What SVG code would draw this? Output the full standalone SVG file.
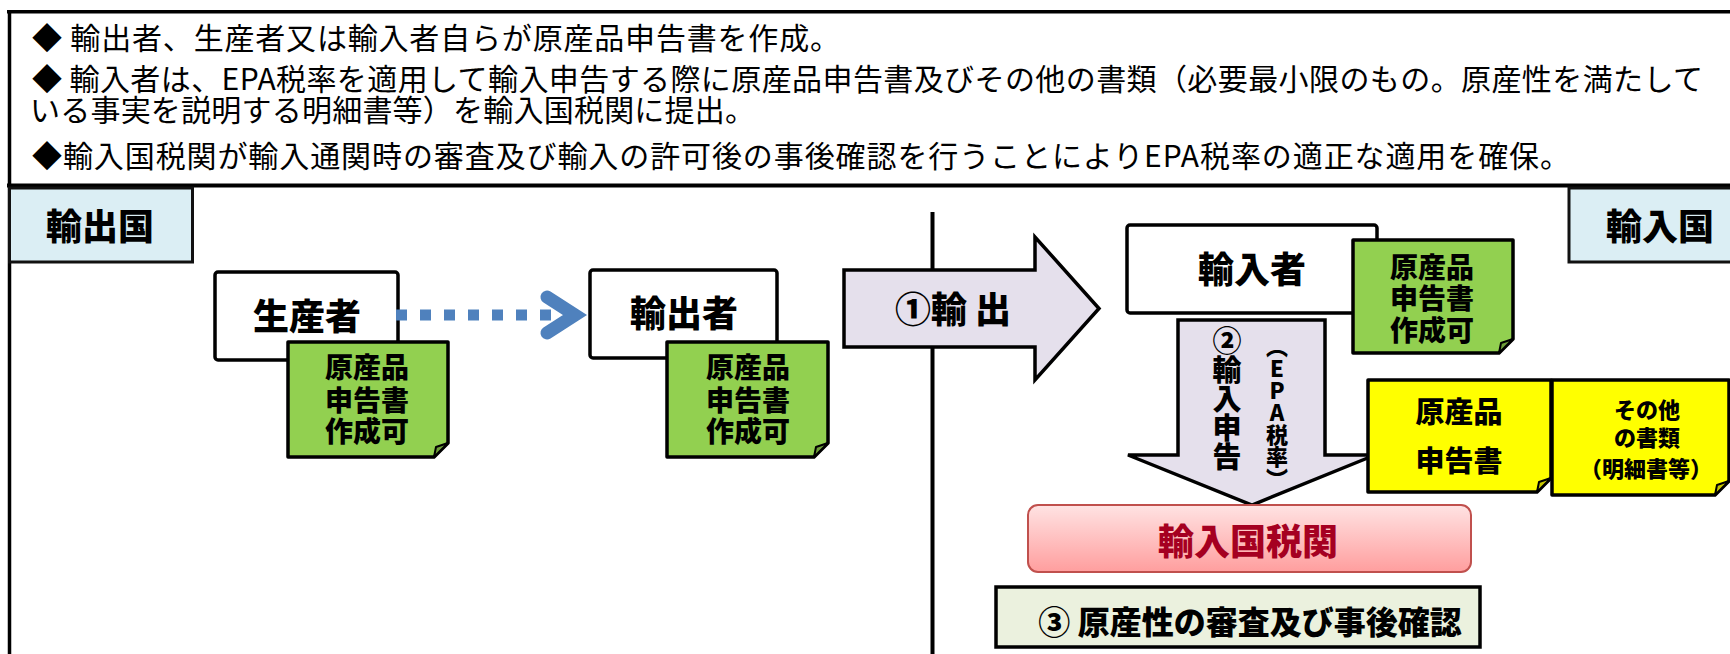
<svg xmlns="http://www.w3.org/2000/svg" width="1730" height="654" viewBox="0 0 1730 654">
<style>
text{font-family:"Noto Sans CJK JP","Noto Sans",sans-serif;fill:#000}
.hd{font-size:30px;font-weight:400}
.b{font-weight:900;text-anchor:middle}
.box{fill:#fff;stroke:#000;stroke-width:3.5}
.cty{fill:#DBEEF4;stroke:#111;stroke-width:3}
.green{fill:#92D050;stroke:#000;stroke-width:3.5;stroke-linejoin:round}
.gfold{fill:#6E9E3A;stroke:#000;stroke-width:2;stroke-linejoin:round}
.yellow{fill:#FFFF00;stroke:#000;stroke-width:3.5;stroke-linejoin:round}
.yfold{fill:#C8C800;stroke:#000;stroke-width:2;stroke-linejoin:round}
.barrow{fill:#E5E0EC;stroke:#000;stroke-width:3.5;stroke-linejoin:miter}
.vt{writing-mode:vertical-rl;text-orientation:upright;font-weight:900}
</style>
<defs>
<linearGradient id="pink" x1="0" y1="0" x2="0" y2="1">
<stop offset="0" stop-color="#FFE3E3"/>
<stop offset="1" stop-color="#FF9E9E"/>
</linearGradient>
</defs>
<rect width="1730" height="654" fill="#fff"/>

<g id="frame" fill="none" stroke="#000">
<line x1="7" y1="11.8" x2="1730" y2="11.8" stroke-width="3.5"/>
<line x1="7" y1="185.5" x2="1730" y2="185.5" stroke-width="4"/>
<line x1="9.5" y1="10" x2="9.5" y2="654" stroke-width="3.5"/>
<line x1="932.5" y1="212" x2="932.5" y2="654" stroke-width="4"/>
</g>

<g id="header">
<text class="hd" x="32" y="49" textLength="808" lengthAdjust="spacing">◆ 輸出者、生産者又は輸入者自らが原産品申告書を作成。</text>
<text class="hd" x="32" y="90" textLength="1671" lengthAdjust="spacing">◆ 輸入者は、EPA税率を適用して輸入申告する際に原産品申告書及びその他の書類（必要最小限のもの。原産性を満たして</text>
<text class="hd" x="30" y="121" textLength="725" lengthAdjust="spacing">いる事実を説明する明細書等）を輸入国税関に提出。</text>
<text class="hd" x="32" y="167" textLength="1538" lengthAdjust="spacing">◆輸入国税関が輸入通関時の審査及び輸入の許可後の事後確認を行うことによりEPA税率の適正な適用を確保。</text>
</g>

<g id="export-country">
<rect class="cty" x="9.5" y="188" width="183" height="74"/>
<text class="b" x="100" y="239.5" font-size="36">輸出国</text>
</g>
<g id="import-country">
<rect class="cty" x="1569" y="188" width="170" height="74"/>
<text class="b" x="1660" y="239.5" font-size="36">輸入国</text>
</g>

<g id="producer">
<rect class="box" x="215" y="272" width="183" height="88" rx="3"/>
<text class="b" x="307" y="329.5" font-size="36">生産者</text>
<path class="green" d="M288 342H448V443L434 457H288Z"/>
<path class="gfold" d="M448 443L436 447L434 457Z"/>
<text class="b" font-size="28"><tspan x="367" y="378">原産品</tspan><tspan x="367" y="410.5">申告書</tspan><tspan x="367" y="441.5">作成可</tspan></text>
</g>

<g id="exporter">
<rect class="box" x="590" y="270" width="187" height="88" rx="3"/>
<text class="b" x="684" y="326.5" font-size="36">輸出者</text>
<path class="green" d="M667 342H828V443L814 457H667Z"/>
<path class="gfold" d="M828 443L816 447L814 457Z"/>
<text class="b" font-size="28"><tspan x="748" y="378">原産品</tspan><tspan x="748" y="410.5">申告書</tspan><tspan x="748" y="441.5">作成可</tspan></text>
</g>

<g id="export-arrow">
<path class="barrow" d="M844 270H1035V237L1099 308.5L1035 380V347H844Z"/>
<text class="b" x="953" y="322.5" font-size="36">①輸 出</text>
</g>

<g id="importer">
<rect class="box" x="1127" y="225" width="250" height="88" rx="3"/>
<text class="b" x="1252" y="282.5" font-size="36">輸入者</text>
<path class="green" d="M1353 240H1513V339L1499 353H1353Z"/>
<path class="gfold" d="M1513 339L1501 343L1499 353Z"/>
<text class="b" font-size="28"><tspan x="1432" y="277.5">原産品</tspan><tspan x="1432" y="308.5">申告書</tspan><tspan x="1432" y="340.5">作成可</tspan></text>
</g>

<g id="import-declaration">
<path class="barrow" d="M1178 320H1325V455H1375L1252 505L1128 455H1178Z"/>
<text class="vt" x="1227" y="326" font-size="29">②輸入申告</text>
<text class="vt" x="1277" y="336" font-size="22">（EPA税率）</text>
</g>

<g id="origin-declaration">
<path class="yellow" d="M1368 380H1551V478L1537 492H1368Z"/>
<path class="yfold" d="M1551 478L1539 482L1537 492Z"/>
<text class="b" font-size="29"><tspan x="1459" y="423">原産品</tspan><tspan x="1459" y="472">申告書</tspan></text>
</g>

<g id="other-documents">
<path class="yellow" d="M1552 380H1729V481L1715 495H1552Z"/>
<path class="yfold" d="M1729 481L1717 485L1715 495Z"/>
<text class="b" font-size="22"><tspan x="1647" y="417.5">その他</tspan><tspan x="1647" y="445.5">の書類</tspan><tspan x="1646" y="476.5">（明細書等）</tspan></text>
</g>

<g id="customs">
<rect x="1028" y="505" width="443" height="67" rx="10" fill="url(#pink)" stroke="#C0504D" stroke-width="2"/>
<text class="b" x="1248" y="554.5" font-size="36" style="fill:#A50021">輸入国税関</text>
</g>

<g id="review">
<rect x="996" y="587" width="484" height="60" fill="#EBF1DE" stroke="#000" stroke-width="3.5"/>
<text class="b" x="1250" y="634" font-size="32">③ 原産性の審査及び事後確認</text>
</g>

<g id="connectors">
<line x1="396" y1="315" x2="553" y2="315" stroke="#4F81BD" stroke-width="11" stroke-dasharray="11 13"/>
<polyline points="547,297 575,315 547,333" fill="none" stroke="#4F81BD" stroke-width="13" stroke-linecap="round" stroke-linejoin="miter"/>
</g>
</svg>
